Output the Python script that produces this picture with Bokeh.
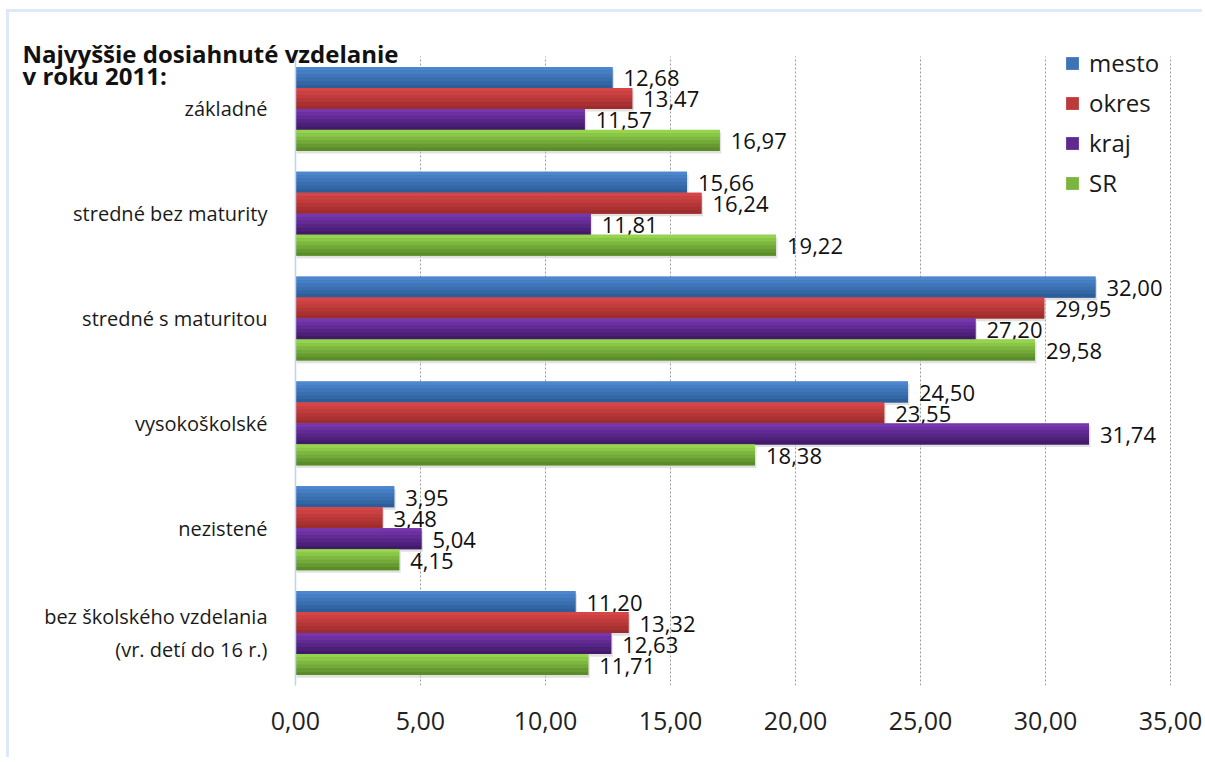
from bokeh.plotting import figure
from bokeh.models import (Range1d, FixedTicker, CustomJSTickFormatter,
                          Label, Legend, LegendItem, ColumnDataSource)
from bokeh.transform import dodge
from bokeh.embed import file_html
from bokeh.resources import INLINE
from bokeh.core.properties import value

# ---------------- data ----------------
categories = ["základné", "stredné bez maturity", "stredné s maturitou",
              "vysokoškolské", "nezistené",
              "bez školského vzdelania\n(vr. detí do 16 r.)"]
series_names = ["mesto", "okres", "kraj", "SR"]
mesto = [12.68, 15.66, 32.00, 24.50, 3.95, 11.20]
okres = [13.47, 16.24, 29.95, 23.55, 3.48, 13.32]
kraj = [11.57, 11.81, 27.20, 31.74, 5.04, 12.63]
sr = [16.97, 19.22, 29.58, 18.38, 4.15, 11.71]
x_ticks = [0, 5, 10, 15, 20, 25, 30, 35]
title_lines = ["Najvyššie dosiahnuté vzdelanie", "v roku 2011:"]

# ---------------- styling ----------------
FONT = "Open Sans"
top_col = [(76, 134, 206), (214, 70, 70), (118, 54, 174), (150, 212, 78)]
bot_col = [(45, 94, 154), (158, 44, 44), (66, 26, 106), (90, 140, 42)]
offsets = [0.3, 0.1, -0.1, -0.3]
NB = 6  # gradient bands per bar


def mix(a, b, t):
    return "#%02x%02x%02x" % tuple(int(round(a[i] + (b[i] - a[i]) * t)) for i in range(3))


n_cat = len(categories)
ypos = [n_cat - 1 - i for i in range(n_cat)]  # first category on top
data = {"cat": categories, "ypos": ypos, "mesto": mesto, "okres": okres,
        "kraj": kraj, "SR": sr}
for n in series_names:
    data[n + "_lbl"] = [f"{v:.2f}".replace(".", ",") for v in data[n]]
src = ColumnDataSource(data)
grid_src = ColumnDataSource({"x": x_ticks})

# page geometry: figure content origin shifted by margin+border
OX, OY = 9, 12
FL, FT, FR, FB = 15, 40, 1171, 685       # frame edges in page px
PX_PER_UNIT = 25.0
PX_PER_CAT = (685 - 56) / n_cat
W, H = 1196, 748

x0 = -(295 - FL) / PX_PER_UNIT
x1 = 35 + (FR - 1170) / PX_PER_UNIT
y_top = (n_cat - 0.5) + (56 - FT) / PX_PER_CAT

p = figure(width=W, height=H, x_range=Range1d(x0, x1), y_range=Range1d(-0.5, y_top),
           output_backend="svg", toolbar_location=None,
           min_border_left=FL - OX, min_border_top=FT - OY,
           min_border_right=W - (FR - OX), min_border_bottom=H - (FB - OY),
           styles={"margin-left": "6px", "margin-top": "9px",
                   "border-left": "3px solid #dde9f7", "border-top": "3px solid #dde9f7"})
p.outline_line_color = None
p.background_fill_color = "#ffffff"
p.border_fill_color = "#ffffff"
p.xgrid.grid_line_color = None
p.ygrid.grid_line_color = None

# dotted vertical gridlines spanning the category band
p.segment(x0="x", x1="x", y0=-0.5, y1=n_cat - 0.5, source=grid_src,
          line_color="#9a9a9a", line_dash="2 2", line_width=1)

# soft shadows under the bars
for n, off in zip(series_names, offsets):
    p.hbar(y=dodge("ypos", off - 0.025), left=0.05, right=dodge(n, 0.06), height=0.2,
           source=src, fill_color="#c8c8c8", fill_alpha=0.55, line_color=None)

items = []
for n, off, ct, cb in zip(series_names, offsets, top_col, bot_col):
    r = p.hbar(y=dodge("ypos", off), left=0, right=n, height=0.2, source=src,
               fill_color=mix(ct, cb, 0.45), line_color=None)
    bh = 0.2 / NB
    for k in range(NB):
        c = off + 0.1 - bh * (k + 0.5)
        p.hbar(y=dodge("ypos", c), left=0, right=n, height=bh * 1.02, source=src,
               fill_color=mix(ct, cb, k / (NB - 1)), line_color=None)
    p.text(x=n, y=dodge("ypos", off), text=n + "_lbl", source=src,
           x_offset=11, y_offset=1, text_baseline="middle", text_align="left",
           text_font=value(FONT), text_font_size="22px", text_color="#111111")
    items.append(LegendItem(label=n, renderers=[r]))

# x axis
p.xaxis.ticker = FixedTicker(ticks=x_ticks)
p.xaxis.formatter = CustomJSTickFormatter(code="return tick.toFixed(2).replace('.', ',');")
p.xaxis.axis_line_color = None
p.xaxis.major_tick_line_color = None
p.xaxis.minor_tick_line_color = None
p.xaxis.major_label_text_font = FONT
p.xaxis.major_label_text_font_size = "25px"
p.xaxis.major_label_text_color = "#222222"
p.xaxis.major_label_standoff = 20

# y axis drawn at x = 0
p.yaxis.fixed_location = 0
p.yaxis.bounds = (-0.5, n_cat - 0.5)
p.yaxis.ticker = FixedTicker(ticks=ypos)
p.yaxis.formatter = CustomJSTickFormatter(
    args={"names": categories, "pos": ypos},
    code="const i = pos.indexOf(Math.round(tick)); return i >= 0 ? names[i] : '';")
p.yaxis.axis_line_color = "#bcd4ee"
p.yaxis.axis_line_width = 1.5
p.yaxis.major_tick_line_color = None
p.yaxis.minor_tick_line_color = None
p.yaxis.major_label_text_font = FONT
p.yaxis.major_label_text_font_size = "20px"
p.yaxis.major_label_text_color = "#1a1a1a"
p.yaxis.major_label_standoff = 22

# legend
legend = Legend(items=items, location=(1049, 486), orientation="vertical",
                padding=0, spacing=7, glyph_width=16, glyph_height=16,
                label_standoff=9, label_text_font=FONT, label_text_font_size="24px",
                label_text_color="#1a1a1a", border_line_color=None,
                background_fill_alpha=0)
p.add_layout(legend)

# title (two lines)
p.add_layout(Label(x=7, y=FB - 53, x_units="screen", y_units="screen", text=title_lines[0],
                   text_font=FONT, text_font_style="bold", text_font_size="24px",
                   text_baseline="alphabetic", text_color="#111111"))
p.add_layout(Label(x=7, y=FB - 75, x_units="screen", y_units="screen", text=title_lines[1],
                   text_font=FONT, text_font_style="bold", text_font_size="24px",
                   text_baseline="alphabetic", text_color="#111111"))

open("out.html", "w").write(file_html(p, INLINE))
